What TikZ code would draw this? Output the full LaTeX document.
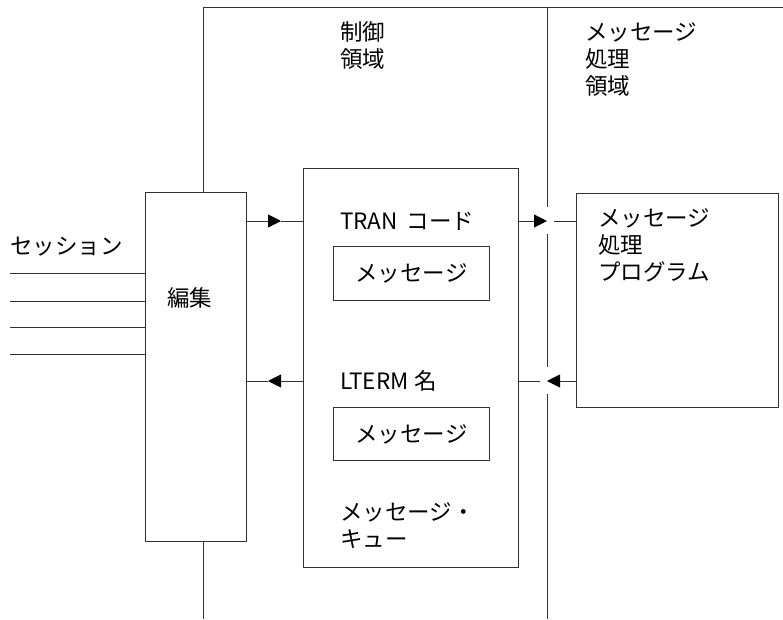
\documentclass[tikz,border=0pt]{standalone}
\usepackage{fontspec}
\newfontfamily\jpfont{Noto Sans CJK JP}
\usetikzlibrary{arrows.meta,positioning}
\begin{document}
\begin{tikzpicture}[x=1pt,y=-1pt,
    box/.style={draw=black!80,line width=0.9pt,anchor=north west,inner sep=0pt,font=\jpfont\fontsize{22.5}{27}\selectfont},
    txt/.style={font=\jpfont\fontsize{22.5}{27}\selectfont,align=left,inner sep=0pt,anchor=west},
    ln/.style={draw=black!80,line width=0.9pt},
    arr/.style={ln,-{Triangle[length=13pt,width=13pt,black]}}]
  \useasboundingbox (0,0) rectangle (783,619);
  % region borders
  \coordinate (tl) at (203,7); \coordinate (tr) at (783,7); \coordinate (bl) at (203,619);
  \coordinate (mtop) at (547,7); \coordinate (mbot) at (547,619);
  \coordinate (gapA) at (547,221); \coordinate (gapB) at (547,381);
  \coordinate (midA) at (281,221); \coordinate (midB) at (268,381);
  % boxes
  \node[box,minimum width=101pt,minimum height=349pt] (edit) at (145,192) {};
  \node[box,minimum width=215pt,minimum height=399pt] (queue) at (303,168) {};
  \node[box,minimum width=156pt,minimum height=54pt] (msg1) at (333,246) {メッセージ};
  \node[box,minimum width=156pt,minimum height=53pt] (msg2) at (333,407) {メッセージ};
  \node[box,minimum width=202pt,minimum height=214pt] (proc) at (576,193) {};
  % labels
  \node[txt] (session) at (10,247) {セッション};
  \node[txt] (henshu) at (167,298) {編集};
  \node[txt] (ctrl) at (340,45) {制御\\領域};
  \node[txt] (mparea) at (585,59) {メッセージ\\処理\\領域};
  \node[txt] (tran) at (340,221) {TRAN\hspace{9pt}コード};
  \node[txt] (lterm) at (340,381) {LTERM\hspace{6pt}名};
  \node[txt] (mq) at (340,526) {メッセージ・\\キュー};
  \node[txt] (mpp) at (598,245) {メッセージ\\処理\\プログラム};
  % lines
  \draw[ln] (edit.north -| tl) -- (tl) -- (tr);
  \draw[ln] (edit.south -| bl) -- (bl);
  \draw[ln] (mtop) -- ([yshift=14pt]gapA);
  \draw[ln] ([yshift=-13pt]gapA) -- ([yshift=14pt]gapB);
  \draw[ln] ([yshift=-13pt]gapB) -- (mbot);
  \foreach \y [count=\i] in {273,301,327,354} {
    \coordinate (ses\i) at (10,\y);
    \draw[ln] (ses\i) -- (edit.west |- ses\i);
  }
  % arrows
  \draw[arr] (edit.east |- tran) -- (midA); \draw[ln] (midA) -- (queue.west |- tran);
  \draw[arr] (queue.west |- lterm) -- (midB); \draw[ln] (midB) -- (edit.east |- lterm);
  \draw[arr] (queue.east |- tran) -- (gapA); \draw[ln] ([xshift=7pt]gapA) -- (proc.west |- gapA);
  \draw[arr] (proc.west |- gapB) -- (gapB); \draw[ln] ([xshift=-7pt]gapB) -- (queue.east |- gapB);
\end{tikzpicture}
\end{document}
